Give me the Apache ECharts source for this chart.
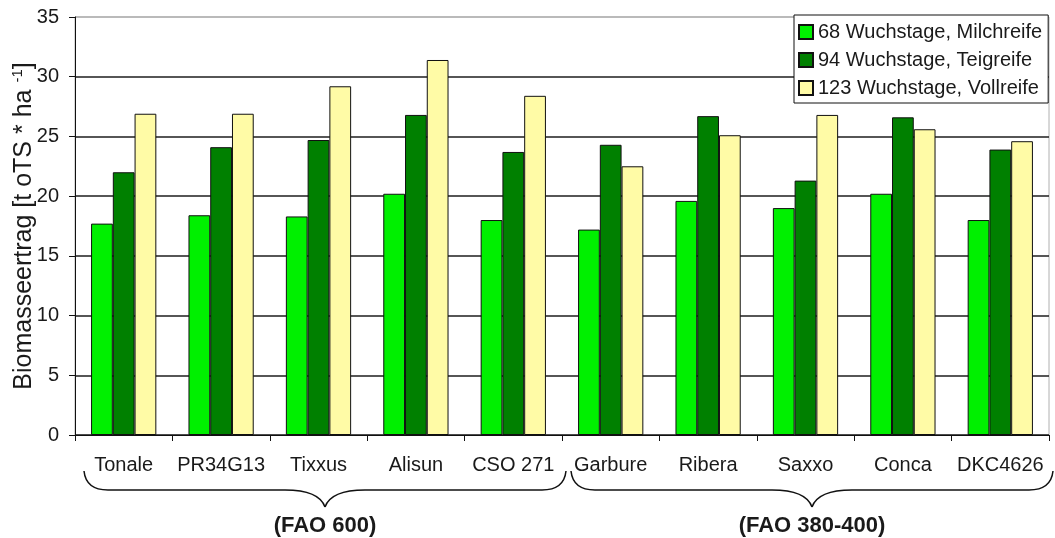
<!DOCTYPE html>
<html>
<head>
<meta charset="utf-8">
<script src="https://cdn.jsdelivr.net/npm/echarts@6/dist/echarts.min.js"></script>
<style>
  html, body { margin: 0; padding: 0; background: #fff; }
  #chart { width: 1055px; height: 538px; }
</style>
</head>
<body>
<div id="chart"></div>
<script>
// Maize varieties (harvest yield, dry matter) at three harvest dates
const categories = ['Tonale', 'PR34G13', 'Tixxus', 'Alisun', 'CSO 271', 'Garbure', 'Ribera', 'Saxxo', 'Conca', 'DKC4626'];
const seriesNames = ['68 Wuchstage, Milchreife', '94 Wuchstage, Teigreife', '123 Wuchstage, Vollreife'];
const milchreife = [17.7, 18.4, 18.3, 20.2, 18.0, 17.2, 19.6, 19.0, 20.2, 18.0];
const teigreife  = [22.0, 24.1, 24.7, 26.8, 23.7, 24.3, 26.7, 21.3, 26.6, 23.9];
const vollreife  = [26.9, 26.9, 29.2, 31.4, 28.4, 22.5, 25.1, 26.8, 25.6, 24.6];
const yMin = 0, yMax = 35, yStep = 5;
// Maturity groups marked with braces under the category axis
const groups = [
  { label: '(FAO 600)', first: 0, last: 4 },
  { label: '(FAO 380-400)', first: 5, last: 9 }
];

const FONT = '"Liberation Sans", Arial, sans-serif';
const TEXT = '#1a1a1a';
const colors = ['#00F000', '#008000', '#FFFBA6'];

const chart = echarts.init(document.getElementById('chart'), null, { renderer: 'canvas' });

const gridLineColors = [];
for (let v = yMin; v <= yMax; v += yStep) gridLineColors.push(v === yMax ? '#b0b0b0' : '#1e1e1e');

function barSeries(name, data, color) {
  return {
    name: name,
    type: 'bar',
    data: data,
    barGap: '0%',
    barCategoryGap: '33%',
    itemStyle: { color: color, borderColor: '#111', borderWidth: 1 },
    emphasis: { disabled: true },
    animation: false
  };
}

chart.setOption({
  animation: false,
  textStyle: { fontFamily: FONT },
  grid: {
    left: 75, right: 6, top: 17, bottom: 103,
    outerBoundsMode: 'none', containLabel: false,
    show: true, borderColor: '#b0b0b0', borderWidth: 1, backgroundColor: 'transparent'
  },
  legend: {
    orient: 'vertical',
    left: 794, top: 15,
    padding: [7, 6, 5, 4],
    itemWidth: 14, itemHeight: 14, itemGap: 8,
    backgroundColor: '#fff',
    borderColor: '#111', borderWidth: 1,
    icon: 'rect',
    textStyle: { fontSize: 20, color: TEXT, fontFamily: FONT },
    selectedMode: false,
    data: seriesNames
  },
  xAxis: {
    type: 'category',
    data: categories,
    boundaryGap: true,
    axisLine: { lineStyle: { color: '#111', width: 1 } },
    axisTick: { show: true, alignWithLabel: false, length: 6, lineStyle: { color: '#111' } },
    axisLabel: { fontSize: 20, color: TEXT, margin: 20, fontFamily: FONT, interval: 0 },
    splitLine: { show: false }
  },
  yAxis: {
    type: 'value',
    min: yMin, max: yMax, interval: yStep,
    name: '{a|Biomasseertrag [t oTS * ha }{s|-1}{a|]}',
    nameLocation: 'middle',
    nameGap: 38,
    nameRotate: 90,
    nameMoveOverlap: false,
    nameTextStyle: {
      rich: {
        a: { fontSize: 25, color: TEXT, fontFamily: FONT, lineHeight: 27, verticalAlign: 'bottom' },
        s: { fontSize: 15, color: TEXT, fontFamily: FONT, lineHeight: 27, verticalAlign: 'top' }
      }
    },
    axisLine: { show: true, lineStyle: { color: '#111', width: 1 } },
    axisTick: { show: true, length: 6, lineStyle: { color: '#111' } },
    axisLabel: { fontSize: 20, color: TEXT, margin: 16, fontFamily: FONT },
    splitLine: { show: true, lineStyle: { color: gridLineColors, width: 1.5 } }
  },
  series: [
    barSeries(seriesNames[0], milchreife, colors[0]),
    barSeries(seriesNames[1], teigreife, colors[1]),
    barSeries(seriesNames[2], vollreife, colors[2])
  ]
});

// Braces and group captions, positioned from the category axis scale
const braceStyle = { fill: 'none', stroke: '#111', lineWidth: 1.5 };
function braceElements(xa, xb, yTop, yMid, yTip) {
  const xm = (xa + xb) / 2;
  const r = 24, k = 40;
  const curve = function (x1, y1, cx, cy, x2, y2) {
    return { type: 'bezierCurve', silent: true, style: braceStyle,
      shape: { x1: x1, y1: y1, cpx1: cx, cpy1: cy, x2: x2, y2: y2 } };
  };
  const line = function (x1, x2, y) {
    return { type: 'line', silent: true, style: braceStyle,
      shape: { x1: x1, y1: y, x2: x2, y2: y } };
  };
  return [
    curve(xa, yTop, xa + 2, yMid, xa + r, yMid),
    line(xa + r, xm - k, yMid),
    curve(xm - k, yMid, xm - 6, yMid, xm, yTip),
    curve(xm, yTip, xm + 6, yMid, xm + k, yMid),
    line(xm + k, xb - r, yMid),
    curve(xb - r, yMid, xb - 2, yMid, xb, yTop)
  ];
}

const c0 = chart.convertToPixel({ xAxisIndex: 0 }, 0);
const c1 = chart.convertToPixel({ xAxisIndex: 0 }, 1);
const band = c1 - c0;
const axisY = chart.convertToPixel({ yAxisIndex: 0 }, yMin);

let graphics = [];
groups.forEach(function (g) {
  const left = chart.convertToPixel({ xAxisIndex: 0 }, g.first) - band / 2;
  const right = chart.convertToPixel({ xAxisIndex: 0 }, g.last) + band / 2;
  const xa = left + 9, xb = right + 4;
  graphics = graphics.concat(braceElements(xa, xb, axisY + 36, axisY + 55, axisY + 72));
  graphics.push({
    type: 'text',
    x: (xa + xb) / 2,
    y: axisY + 91,
    silent: true,
    style: { text: g.label, fontSize: 22, fontWeight: 'bold', fill: TEXT, fontFamily: FONT, align: 'center', verticalAlign: 'middle' }
  });
});
chart.setOption({ graphic: graphics });
</script>
</body>
</html>
